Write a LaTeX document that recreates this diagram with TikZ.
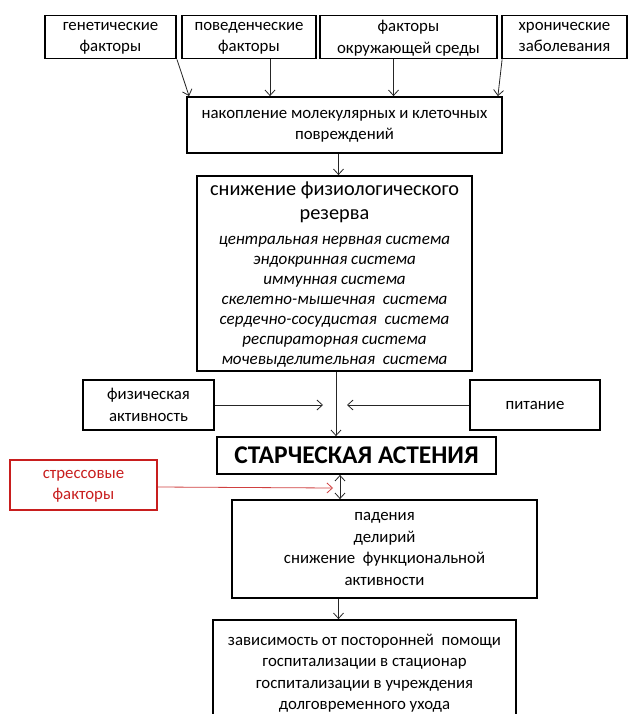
\documentclass[tikz,border=0pt]{standalone}
\usepackage{fontspec}
\setmainfont{Carlito}
\usepackage{xcolor}
\usetikzlibrary{arrows.meta, calc}

\definecolor{stressred}{RGB}{200,30,30}

\newcommand{\bigline}{\fontsize{20.3}{22}\selectfont}
\newcommand{\itline}{\fontsize{17}{20}\selectfont\itshape}

\begin{document}
\begin{tikzpicture}[x=1pt, y=-1pt, >={Straight Barb[length=5.5pt, width=10pt]}]

\tikzset{
    flowbox/.style={rectangle, draw=black, line width=1.8pt, align=center, text depth=0pt,
                    minimum width=#1, inner sep=1pt, font=\fontsize{16.8}{21.5}\selectfont},
    arr/.style={->, line width=0.8pt, color=black!85}
}

\useasboundingbox (0,0) rectangle (627,714);

% ── верхний ряд ──
\node[flowbox=131pt, minimum height=43pt] (g1) at (110.5,37) {генетические\\факторы};
\node[flowbox=134pt, minimum height=43pt] (g2) at (249,37)   {поведенческие\\факторы};
\node[flowbox=177pt, minimum height=43pt] (g3) at (408.5,37) {факторы\\окружающей среды};
\node[flowbox=125pt, minimum height=43pt] (g4) at (564.5,37) {хронические\\заболевания};

\node[flowbox=315pt, minimum height=56pt] (nak) at (344.5,125)
    {накопление молекулярных и клеточных\\повреждений};

\draw[arr] (g1.south east) -- ([xshift=3pt]nak.north west);
\draw[arr] ([xshift=21pt]g2.south) -- ([xshift=21pt]g2.south |- nak.north);
\draw[arr] ([xshift=-15pt]g3.south) -- ([xshift=-15pt]g3.south |- nak.north);
\draw[arr] ([xshift=1pt]g4.south west) -- ([xshift=-5pt]nak.north east);

% ── резерв ──
\node[flowbox=275pt, minimum height=195pt, inner sep=0pt,
      font=\fontsize{17}{20}\selectfont] (sniz) at (334.5,273.5)
    {\bigline снижение физиологического\\[4pt]
     \bigline резерва\\[5pt]
     \itline центральная нервная система\\
     \itline эндокринная система\\
     \itline иммунная система\\
     \itline скелетно-мышечная~ система\\
     \itline сердечно-сосудистая~ система\\
     \itline респираторная система\\
     \itline мочевыделительная~ система};

\draw[arr] ([xshift=-6pt]nak.south) -- ([xshift=-6pt]nak.south |- sniz.north);

% ── модификаторы ──
\node[flowbox=131pt, minimum height=50pt] (fiz) at (148.5,405) {физическая\\активность};
\node[flowbox=130pt, minimum height=50pt] (pit) at (535,405)   {питание};

\node[flowbox=279pt, minimum height=37pt, font=\fontsize{25.5}{28}\selectfont\bfseries]
    (star) at (356.5,455.5) {СТАРЧЕСКАЯ АСТЕНИЯ};

\coordinate (fizend) at (323,405);
\coordinate (pitend) at (347,405);

\draw[arr] ([xshift=1.5pt]sniz.south) -- ([xshift=1.5pt]sniz.south |- star.north);
\draw[arr] (fiz.east) -- (fizend);
\draw[arr] (pit.west) -- (pitend);

% ── стресс ──
\node[flowbox=147pt, minimum height=50pt, draw=stressred, text=stressred]
    (stress) at (83.5,485) {стрессовые\\факторы};

\node[flowbox=305pt, minimum height=98pt] (pad) at (384.5,549)
    {падения\\делирий\\снижение~ функциональной\\активности};

\coordinate (stressend) at (333,488);
\draw[arr, color=stressred!85] ([yshift=-2pt]stress.east) -- (stressend);
\draw[arr, <->] ([xshift=-16.5pt]star.south) -- ([xshift=-16.5pt]star.south |- pad.north);

% ── исходы ──
\node[flowbox=303pt, minimum height=104pt] (zav) at (364.5,672)
    {зависимость от посторонней~ помощи\\госпитализации в стационар\\госпитализации в учреждения\\долговременного ухода};

\draw[arr] ([xshift=-46pt]pad.south) -- ([xshift=-46pt]pad.south |- zav.north);

\end{tikzpicture}
\end{document}
